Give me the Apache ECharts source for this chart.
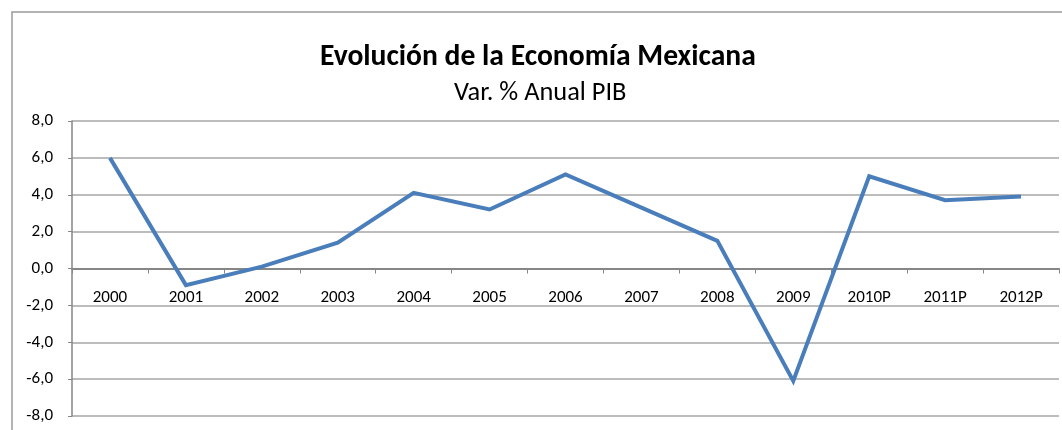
<!DOCTYPE html>
<html>
<head>
<meta charset="utf-8">
<script src="https://cdn.jsdelivr.net/npm/echarts@6/dist/echarts.min.js"></script>
<style>
  html, body { margin: 0; padding: 0; background: #fff; }
  #chart { width: 1062px; height: 430px; }
</style>
</head>
<body>
<div id="chart"></div>
<script>
// datos
var categories = ['2000', '2001', '2002', '2003', '2004', '2005', '2006', '2007', '2008', '2009', '2010P', '2011P', '2012P'];
var pibValues = [6.0, -0.9, 0.1, 1.4, 4.1, 3.2, 5.1, 3.3, 1.5, -6.1, 5.0, 3.7, 3.9];
var yMin = -8;
var yMax = 8;
var yStep = 2;
var titleText = 'Evolución de la Economía Mexicana';
var subtitleText = 'Var. % Anual PIB';

var font = "Carlito, 'Liberation Sans Narrow', 'Liberation Sans', sans-serif";

var gridTop = 121;
var gridBottom = 14;
var gridHeight = 430 - gridTop - gridBottom;
// el eje de categorias cruza en 0: se sube desde el borde inferior
var zeroOffset = -gridHeight * (0 - yMin) / (yMax - yMin);

var chart = echarts.init(document.getElementById('chart'));
chart.setOption({
  backgroundColor: '#fff',
  animation: false,
  title: [{
    text: titleText,
    left: 320,
    top: 43,
    padding: 0,
    textStyle: { fontFamily: font, fontSize: 29.6, fontWeight: 'bold', color: '#000' }
  }, {
    text: subtitleText,
    left: 454,
    top: 80,
    padding: 0,
    textStyle: { fontFamily: font, fontSize: 26.4, fontWeight: 'normal', color: '#000' }
  }],
  // marco del grafico (solo borde superior e izquierdo visibles)
  graphic: [{
    type: 'rect',
    shape: { x: 12, y: 12, width: 1200, height: 600 },
    style: { fill: 'none', stroke: '#9a9a9a', lineWidth: 1.5 },
    silent: true
  }],
  grid: { left: 72, right: 3, top: gridTop, bottom: gridBottom, outerBoundsMode: 'none', containLabel: false },
  xAxis: {
    type: 'category',
    data: categories,
    position: 'bottom',
    offset: zeroOffset,
    boundaryGap: true,
    axisLine: { onZero: false, lineStyle: { color: '#868686', width: 2 } },
    axisTick: { show: true, length: 5, lineStyle: { color: '#868686' } },
    axisLabel: { margin: 21, fontFamily: font, fontSize: 17, color: '#000' },
    splitLine: { show: false }
  },
  yAxis: {
    type: 'value',
    min: yMin,
    max: yMax,
    interval: yStep,
    axisLine: { show: true, lineStyle: { color: '#868686', width: 1.5 } },
    axisTick: { show: true, length: 4, lineStyle: { color: '#868686' } },
    axisLabel: {
      margin: 19,
      fontFamily: font,
      fontSize: 17,
      color: '#000',
      formatter: function (v) { return v.toFixed(1).replace('.', ','); }
    },
    splitLine: { show: true, lineStyle: { color: '#a6a6a6', width: 1.5 } }
  },
  series: [{
    type: 'line',
    data: pibValues,
    symbol: 'none',
    z: 5,
    lineStyle: { color: '#4a7ebb', width: 4, join: 'miter' },
    itemStyle: { color: '#4a7ebb' }
  }]
});
</script>
</body>
</html>
